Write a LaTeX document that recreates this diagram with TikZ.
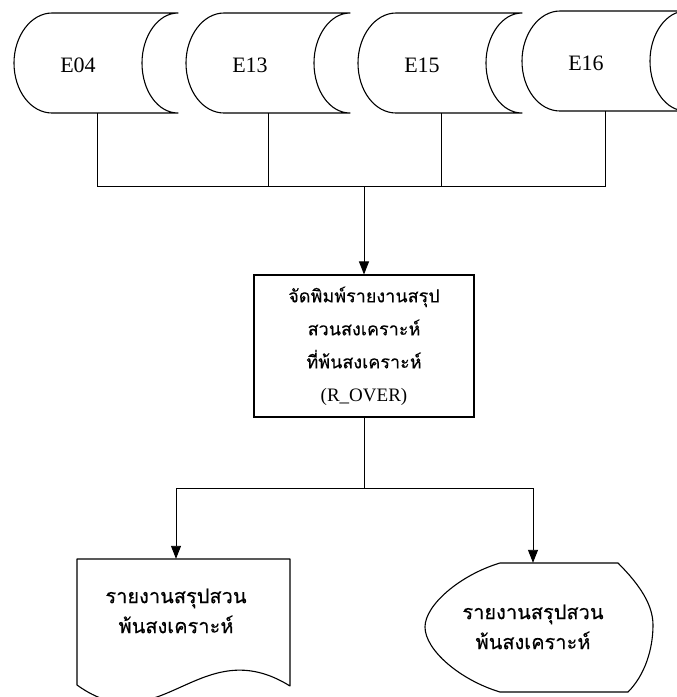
\documentclass[tikz,border=0pt]{standalone}
\usepackage{fontspec}
\setmainfont{Liberation Serif}
\newfontfamily\thaifont[Script=Thai,FakeBold=0.25]{Loma}
\usetikzlibrary{arrows.meta,calc}

\begin{document}
\begin{tikzpicture}[x=1pt,y=-1pt]
	\tikzstyle{storage}=[minimum width=128pt,minimum height=100pt,inner sep=0pt,font=\fontsize{22}{24}\selectfont]
	\tikzstyle{process}=[draw,line width=1.1pt,minimum width=220pt,minimum height=142pt,align=center,font=\thaifont\fontsize{18}{33}\selectfont]
	\tikzstyle{report}=[minimum width=190pt,inner sep=0pt,align=center,font=\thaifont\fontsize{20}{30}\selectfont]
	\tikzstyle{outline}=[line width=1.1pt,line join=round]
	\tikzstyle{line}=[line width=0.9pt]
	\tikzstyle{arrow}=[line,-{Triangle[length=13pt,width=10pt]}]
	\useasboundingbox (0,0) rectangle (677,697);
	\clip (0,0) rectangle (677,697);
	% files
	\node[storage] (e04) at (78,65) {E04};
	\node[storage] (e13) at (250,65) {E13};
	\node[storage] (e15) at (422,65) {E15};
	\node[storage] (e16) at (586,63) {E16};
	\foreach \n in {e04,e13,e15,e16}
		\draw[outline,shift={(\n.center)}] (-26,-52) -- (100,-52)
			.. controls (80,-52) and (64,-29) .. (64,-2)
			.. controls (64,26) and (80,48) .. (100,48) -- (-26,48)
			.. controls (-47,48) and (-64,26) .. (-64,-2)
			.. controls (-64,-29) and (-47,-52) .. cycle;
	% program
	\node[process] (proc) at (364,346) {จัดพิมพ์รายงานสรุป\\สวนสงเคราะห์\\ที่พ้นสงเคราะห์\\{\rmfamily\fontsize{19}{33}\selectfont (R\_OVER)}};
	% outputs
	\node[report,minimum height=104pt] (doc) at (176,611) {รายงานสรุปสวน\\พ้นสงเคราะห์};
	\draw[outline,shift={(doc.center)}] (-99,-52) -- (114,-52) -- (114,75)
		.. controls (24,19) and (-16,134) .. (-99,74) -- cycle;
	\node[report,minimum height=128pt] (disp) at (533,627) {รายงานสรุปสวน\\พ้นสงเคราะห์};
	\draw[outline,shift={(disp.center)}] (-33,-64) -- (85,-64)
		.. controls (107,-42) and (120,-22) .. (120,-2)
		.. controls (120,22) and (112,48) .. (95,65) -- (-33,65)
		.. controls (-73,53) and (-108,23) .. (-108,0)
		.. controls (-108,-22) and (-73,-52) .. cycle;
	% connectors
	\coordinate (bus) at (364,186);
	\coordinate (split) at (364,488);
	\draw[line] ($(e04.south)+(19,-2)$) |- (bus);
	\draw[line] ($(e13.south)+(18,-2)$) |- (bus);
	\draw[line] ($(e15.south)+(19,-2)$) |- (bus);
	\draw[line] ($(e16.south)+(19,-2)$) |- (bus);
	\draw[arrow] (bus) -- (proc);
	\draw[line] (proc) -- (split);
	\draw[arrow] (split) -| (doc.north);
	\draw[arrow] (split) -| (disp.north);
\end{tikzpicture}
\end{document}
